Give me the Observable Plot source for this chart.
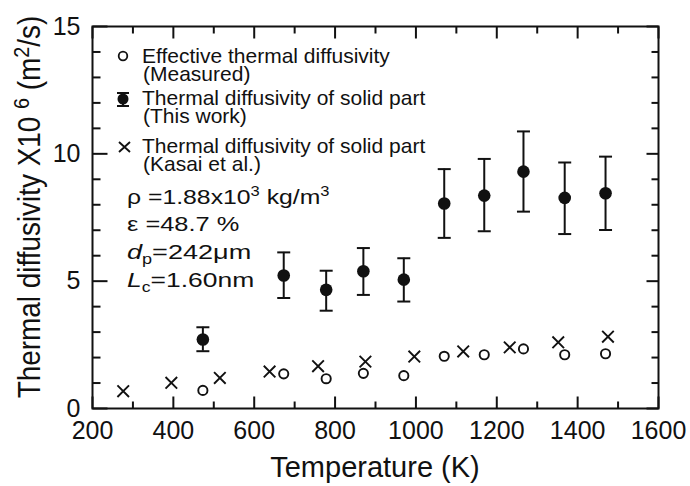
<!DOCTYPE html>
<html>
<head>
<meta charset="utf-8">
<script src="https://cdn.jsdelivr.net/npm/d3@7"></script>
<script src="https://cdn.jsdelivr.net/npm/@observablehq/plot@0.6"></script>
<style>
  html, body { margin: 0; padding: 0; background: #fff; }
  #chart svg { display: block; }
</style>
</head>
<body>
<div id="chart"></div>
<script>
// ---- data ----
const tempEffective = [473, 673, 778, 870, 970, 1070, 1169, 1266, 1368, 1469];
const effective     = [0.71, 1.36, 1.17, 1.38, 1.29, 2.05, 2.11, 2.34, 2.11, 2.15];

const tempSolid = [473, 673, 778, 870, 970, 1070, 1169, 1266, 1368, 1469];
const solid     = [2.71, 5.22, 4.66, 5.39, 5.06, 8.05, 8.36, 9.30, 8.27, 8.45];
const solidHigh = [3.19, 6.13, 5.41, 6.30, 5.90, 9.40, 9.80, 10.88, 9.66, 9.89];
const solidLow  = [2.25, 4.34, 3.84, 4.46, 4.20, 6.70, 6.96, 7.73, 6.85, 7.01];

const tempKasai = [276, 395, 515, 638, 758, 875, 996, 1117, 1232, 1352, 1475];
const kasai     = [0.68, 1.01, 1.20, 1.45, 1.66, 1.84, 2.04, 2.24, 2.40, 2.60, 2.82];

const xMajorTicks = [200, 400, 600, 800, 1000, 1200, 1400, 1600];
const xMinorTicks = [300, 500, 700, 900, 1100, 1300, 1500];
const yMajorTicks = [0, 5, 10, 15];
const yMinorTicks = [1, 2, 3, 4, 6, 7, 8, 9, 11, 12, 13, 14];

const legendLabels = [
  ["Effective thermal diffusivity", "(Measured)"],
  ["Thermal diffusivity of solid part", "(This work)"],
  ["Thermal diffusivity of solid part", "(Kasai et al.)"]
];

// ---- tables built from the arrays ----
const effRows   = tempEffective.map((t, i) => ({t, v: effective[i]}));
const solidRows = tempSolid.map((t, i) => ({t, v: solid[i], hi: solidHigh[i], lo: solidLow[i]}));
const kasaiRows = tempKasai.map((t, i) => ({t, v: kasai[i]}));

// ---- layout ----
const W = 690, H = 486;
const mL = 92, mR = 32, mT = 26, mB = 78;
const FONT = "'Liberation Sans', Arial, Helvetica, sans-serif";
const INK = "#111";

// custom symbols (size = pi r^2  ->  r is recovered)
const rOf = size => Math.sqrt(size / Math.PI);
const capSymbol = {draw(ctx, s) { const r = rOf(s); ctx.moveTo(-r, 0); ctx.lineTo(r, 0); }};
const timesSymbol = {draw(ctx, s) {
  const r = rOf(s);
  ctx.moveTo(-r, -r); ctx.lineTo(r, r);
  ctx.moveTo(-r, r); ctx.lineTo(r, -r);
}};
// inward frame ticks, length r
const tickUp    = {draw(ctx, s) { ctx.moveTo(0, 0); ctx.lineTo(0, -rOf(s)); }};
const tickDown  = {draw(ctx, s) { ctx.moveTo(0, 0); ctx.lineTo(0, rOf(s)); }};
const tickRight = {draw(ctx, s) { ctx.moveTo(0, 0); ctx.lineTo(rOf(s), 0); }};
const tickLeft  = {draw(ctx, s) { ctx.moveTo(0, 0); ctx.lineTo(-rOf(s), 0); }};
const tickStyle = {fill: "none", stroke: INK, strokeWidth: 2};

const chart = Plot.plot({
  width: W,
  height: H,
  marginLeft: mL,
  marginRight: mR,
  marginTop: mT,
  marginBottom: mB,
  style: {fontFamily: FONT, color: INK, background: "#fff"},
  x: {domain: [200, 1600], label: null},
  y: {domain: [0, 15], label: null},
  marks: [
    // inward ticks: bottom, top, left, right
    Plot.dot(xMajorTicks, {x: d => d, y: () => 0,  symbol: tickUp,   r: 12, ...tickStyle}),
    Plot.dot(xMinorTicks, {x: d => d, y: () => 0,  symbol: tickUp,   r: 7,  ...tickStyle}),
    Plot.dot(xMajorTicks, {x: d => d, y: () => 15, symbol: tickDown, r: 12, ...tickStyle}),
    Plot.dot(xMinorTicks, {x: d => d, y: () => 15, symbol: tickDown, r: 7,  ...tickStyle}),
    Plot.dot(yMajorTicks, {y: d => d, x: () => 200,  symbol: tickRight, r: 15, ...tickStyle}),
    Plot.dot(yMinorTicks, {y: d => d, x: () => 200,  symbol: tickRight, r: 8,  ...tickStyle}),
    Plot.dot(yMajorTicks, {y: d => d, x: () => 1600, symbol: tickLeft,  r: 12, ...tickStyle}),
    Plot.dot(yMinorTicks, {y: d => d, x: () => 1600, symbol: tickLeft,  r: 7,  ...tickStyle}),
    Plot.frame({stroke: INK, strokeWidth: 2}),
    // tick labels
    Plot.axisX(xMajorTicks, {tickSize: 0, tickPadding: 13, fontSize: 25, label: null, fill: INK, tickFormat: d => String(d)}),
    Plot.axisY(yMajorTicks, {tickSize: 0, tickPadding: 12, fontSize: 25, label: null, fill: INK, tickFormat: d => String(d)}),
    // error bars (This work)
    Plot.ruleX(solidRows, {x: "t", y1: "lo", y2: "hi", stroke: INK, strokeWidth: 2}),
    Plot.dot(solidRows, {x: "t", y: "hi", symbol: capSymbol, r: 6.5, stroke: INK, strokeWidth: 2, fill: "none"}),
    Plot.dot(solidRows, {x: "t", y: "lo", symbol: capSymbol, r: 6.5, stroke: INK, strokeWidth: 2, fill: "none"}),
    Plot.dot(solidRows, {x: "t", y: "v", r: 6.3, fill: INK, stroke: "none"}),
    // effective (measured)
    Plot.dot(effRows, {x: "t", y: "v", r: 4.6, fill: "none", stroke: INK, strokeWidth: 1.9}),
    // Kasai et al.
    Plot.dot(kasaiRows, {x: "t", y: "v", symbol: timesSymbol, r: 5.8, fill: "none", stroke: INK, strokeWidth: 1.9})
  ]
});

document.getElementById("chart").appendChild(chart);

// ---- titles, legend and annotations as real SVG text ----
const svg = d3.select(chart);
const xs = chart.scale("x"), ys = chart.scale("y");
const frameCx = (xs.apply(200) + xs.apply(1600)) / 2;
const frameCy = (ys.apply(0) + ys.apply(15)) / 2;

// x-axis title
svg.append("text")
  .attr("x", frameCx).attr("y", 477)
  .attr("text-anchor", "middle")
  .attr("font-family", FONT).attr("font-size", 29).attr("fill", INK)
  .text("Temperature (K)");

// y-axis title (rotated), with superscripts
const yt = svg.append("text")
  .attr("transform", `translate(40,${frameCy - 10}) rotate(-90) scale(0.9,1)`)
  .attr("text-anchor", "middle")
  .attr("font-family", FONT).attr("font-size", 31).attr("fill", INK);
yt.append("tspan").text("Thermal diffusivity X10 ");
yt.append("tspan").attr("font-size", 22).attr("dy", -11).text("6");
yt.append("tspan").attr("dy", 11).text(" (m");
yt.append("tspan").attr("font-size", 22).attr("dy", -11).text("2");
yt.append("tspan").attr("dy", 11).text("/s)");

// legend (each entry: one text element, two lines)
const lg = svg.append("g").attr("font-family", FONT).attr("font-size", 21)
  .attr("fill", INK).attr("text-anchor", "start");
const legendTop = [63, 105, 153];
legendLabels.forEach((lines, i) => {
  const t = lg.append("text").attr("x", 142).attr("y", legendTop[i]);
  t.append("tspan").attr("x", 142).text(lines[0]);
  t.append("tspan").attr("x", 143).attr("dy", 18).text(lines[1]);
});
// legend symbols
lg.append("circle").attr("cx", 123).attr("cy", 56).attr("r", 4.3)
  .attr("fill", "none").attr("stroke", INK).attr("stroke-width", 1.8);
lg.append("path").attr("d", "M117,93H129M123,93V106M117,106H129")
  .attr("stroke", INK).attr("stroke-width", 2).attr("fill", "none");
lg.append("circle").attr("cx", 123).attr("cy", 99).attr("r", 5.5).attr("fill", INK);
lg.append("path").attr("d", "M119,142L130,152M119,152L130,142")
  .attr("stroke", INK).attr("stroke-width", 1.9).attr("fill", "none");

// sample parameters
const pg = svg.append("g").attr("font-family", FONT).attr("font-size", 21)
  .attr("fill", INK).attr("text-anchor", "start");
function paramLine(baseline, sx, build) {
  const t = pg.append("text").attr("transform", `translate(127,${baseline}) scale(${sx},1)`);
  build(t);
}
paramLine(204, 1.18, t => {
  t.append("tspan").text("ρ =1.88x10");
  t.append("tspan").attr("font-size", 14).attr("dy", -8).text("3");
  t.append("tspan").attr("dy", 8).text(" kg/m");
  t.append("tspan").attr("font-size", 14).attr("dy", -8).text("3");
});
paramLine(231, 1.21, t => {
  t.append("tspan").text("ε =48.7 %");
});
paramLine(259, 1.29, t => {
  t.append("tspan").attr("font-style", "italic").text("d");
  t.append("tspan").attr("font-size", 14).attr("dy", 5).text("p");
  t.append("tspan").attr("dy", -5).text("=242μm");
});
paramLine(287, 1.26, t => {
  t.append("tspan").attr("font-style", "italic").text("L");
  t.append("tspan").attr("font-size", 14).attr("dy", 5).text("c");
  t.append("tspan").attr("dy", -5).text("=1.60nm");
});
</script>
</body>
</html>
